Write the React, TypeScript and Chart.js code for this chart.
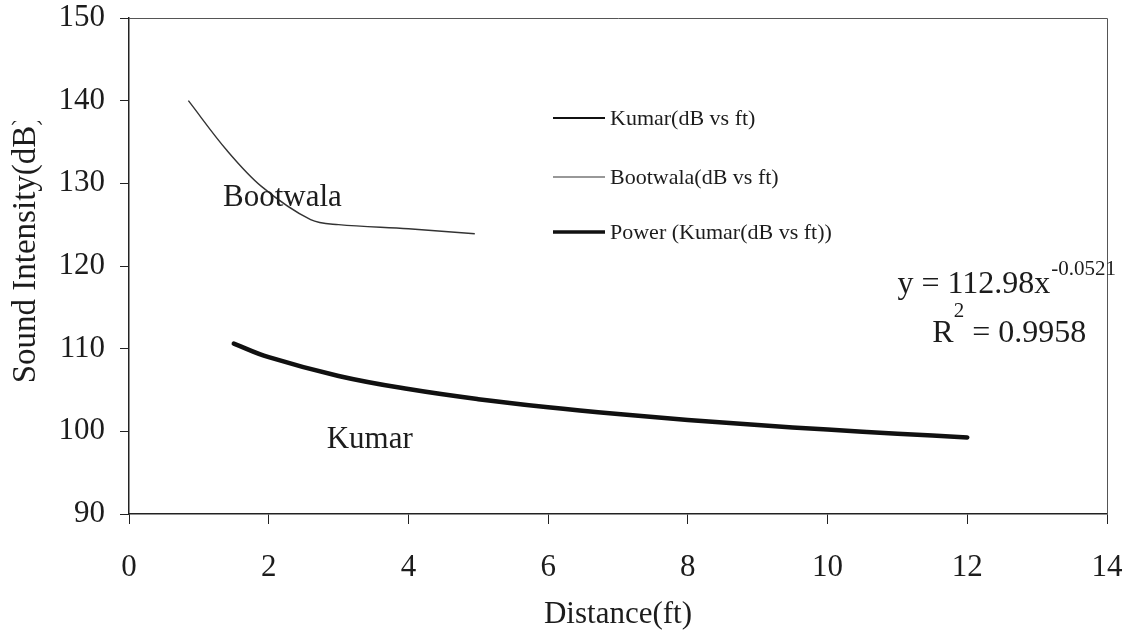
import { useEffect, useRef } from "react";
import { Chart, registerables } from "chart.js";

Chart.register(...registerables);

// Measured sound intensity against distance
const bootwalaDist = [0.85, 1.4, 1.9, 2.6, 3.0, 4.0, 4.95];
const bootwalaDb = [140, 134, 129.6, 125.6, 125.0, 124.5, 123.9];

const kumarDist = [1.5, 2, 3, 4, 5, 6, 7, 8, 9, 10, 11, 12];
const kumarDb = [110.6, 109.0, 106.7, 105.1, 103.9, 102.9, 102.1, 101.4, 100.8, 100.2, 99.7, 99.3];

// Power trend line for the Kumar series: y = 112.98 x^-0.0521
const powerDb = [110.62, 108.97, 106.7, 105.11, 103.89, 102.91, 102.09, 101.38, 100.76, 100.21, 99.71, 99.26];

const xTicks = [0, 2, 4, 6, 8, 10, 12, 14];
const yTicks = [90, 100, 110, 120, 130, 140, 150];

const seriesNames = ["Kumar(dB vs ft)", "Bootwala(dB vs ft)", "Power (Kumar(dB vs ft))"];

const FONT = '"Liberation Serif", "Times New Roman", serif';
const INK = "#1c1c1c";

const toPoints = (xs: number[], ys: number[]) => xs.map((x, i) => ({ x, y: ys[i] }));

export default function App() {
  const ref = useRef<HTMLCanvasElement>(null);

  useEffect(() => {
    document.body.style.margin = "0";
    const canvas = ref.current!;

    const decorations = {
      id: "decorations",
      afterDraw(chart: any) {
        const { ctx, chartArea, scales } = chart;
        const xs = scales.x;
        const ys = scales.y;
        ctx.save();

        // frame: top and right edges of the plot area
        ctx.strokeStyle = "#555";
        ctx.lineWidth = 1;
        ctx.beginPath();
        ctx.moveTo(chartArea.left, chartArea.top + 0.5);
        ctx.lineTo(chartArea.right + 0.5, chartArea.top + 0.5);
        ctx.lineTo(chartArea.right + 0.5, chartArea.bottom);
        ctx.stroke();

        ctx.fillStyle = INK;
        ctx.textBaseline = "alphabetic";
        ctx.textAlign = "left";

        // series labels
        ctx.font = `31px ${FONT}`;
        ctx.fillText("Bootwala", xs.getPixelForValue(1.345), ys.getPixelForValue(127.3));
        ctx.fillText("Kumar", xs.getPixelForValue(2.83), ys.getPixelForValue(98.0));

        // trend equation
        const ex = xs.getPixelForValue(11.0);
        const ey = ys.getPixelForValue(116.75);
        ctx.font = `32px ${FONT}`;
        const eqMain = "y = 112.98x";
        ctx.fillText(eqMain, ex, ey);
        const w1 = ctx.measureText(eqMain).width;
        ctx.font = `21px ${FONT}`;
        ctx.fillText("-0.0521", ex + w1 + 1, ey - 18);

        const rx = xs.getPixelForValue(11.5);
        const ry = ys.getPixelForValue(110.8);
        ctx.font = `32px ${FONT}`;
        ctx.fillText("R", rx, ry);
        const wr = ctx.measureText("R").width;
        ctx.font = `21px ${FONT}`;
        ctx.fillText("2", rx + wr, ry - 25);
        const w2 = ctx.measureText("2").width;
        ctx.font = `32px ${FONT}`;
        ctx.fillText(" = 0.9958", rx + wr + w2, ry);

        // legend
        const rows = [
          { y: 118, width: 2, color: "#111" },
          { y: 177, width: 1.2, color: "#333" },
          { y: 232, width: 3.5, color: "#111" },
        ];
        rows.forEach((r, i) => {
          ctx.strokeStyle = r.color;
          ctx.lineWidth = r.width;
          ctx.beginPath();
          ctx.moveTo(553, r.y);
          ctx.lineTo(605, r.y);
          ctx.stroke();
          ctx.font = `22px ${FONT}`;
          ctx.fillStyle = INK;
          ctx.fillText(seriesNames[i], 610, r.y + 7);
        });

        // y-axis title
        ctx.save();
        ctx.beginPath();
        ctx.rect(0, 121, 80, 600);
        ctx.clip();
        ctx.translate(26, 249);
        ctx.rotate(-Math.PI / 2);
        ctx.textAlign = "center";
        ctx.textBaseline = "middle";
        ctx.font = `33px ${FONT}`;
        ctx.fillText("Sound Intensity(dB)", 0, 0);
        ctx.restore();

        ctx.restore();
      },
    };

    const chart = new Chart(canvas, {
      type: "scatter",
      data: {
        datasets: [
          {
            label: seriesNames[1],
            data: toPoints(bootwalaDist, bootwalaDb),
            showLine: true,
            borderColor: "#333",
            borderWidth: 1.4,
            pointRadius: 0,
            tension: 0.35,
          },
          {
            label: seriesNames[0],
            data: toPoints(kumarDist, kumarDb),
            showLine: true,
            borderColor: "#111",
            borderWidth: 2,
            pointRadius: 0,
            tension: 0.4,
          },
          {
            label: seriesNames[2],
            data: toPoints(kumarDist, powerDb),
            showLine: true,
            borderColor: "#111",
            borderWidth: 4.5,
            borderCapStyle: "round",
            pointRadius: 0,
            tension: 0.4,
          },
        ],
      },
      options: {
        responsive: false,
        animation: false,
        layout: { padding: { left: 0, right: 35, top: 18, bottom: 0 } },
        plugins: {
          legend: { display: false },
          tooltip: { enabled: false },
        },
        scales: {
          x: {
            type: "linear",
            min: xTicks[0],
            max: xTicks[xTicks.length - 1],
            afterFit: (scale: any) => {
              scale.height = 123;
              scale.paddingLeft = 0;
              scale.paddingRight = 0;
            },
            afterBuildTicks: (scale: any) => {
              scale.ticks = xTicks.map((v) => ({ value: v }));
            },
            ticks: {
              font: { family: FONT, size: 31 },
              color: INK,
              padding: 25,
              maxRotation: 0,
            },
            grid: {
              display: true,
              drawOnChartArea: false,
              drawTicks: true,
              tickLength: 10,
              color: "#222",
            },
            border: { display: true, color: "#222", width: 1.5 },
            title: {
              display: true,
              text: "Distance(ft)",
              font: { family: FONT, size: 31 },
              color: INK,
              padding: { top: 0, bottom: 4 },
            },
          },
          y: {
            type: "linear",
            min: yTicks[0],
            max: yTicks[yTicks.length - 1],
            afterFit: (scale: any) => {
              scale.width = 129;
              scale.paddingTop = 0;
              scale.paddingBottom = 0;
            },
            afterBuildTicks: (scale: any) => {
              scale.ticks = yTicks.map((v) => ({ value: v }));
            },
            ticks: {
              font: { family: FONT, size: 31 },
              color: INK,
              padding: 15,
            },
            grid: {
              display: true,
              drawOnChartArea: false,
              drawTicks: true,
              tickLength: 9,
              color: "#222",
            },
            border: { display: true, color: "#222", width: 1.5 },
          },
        },
      },
      plugins: [decorations],
    } as any);

    return () => chart.destroy();
  }, []);

  return (
    <div style={{ position: "absolute", left: 0, top: 0, width: 1142, height: 637, background: "#fff" }}>
      <canvas ref={ref} width={1142} height={637} style={{ display: "block" }} />
    </div>
  );
}
